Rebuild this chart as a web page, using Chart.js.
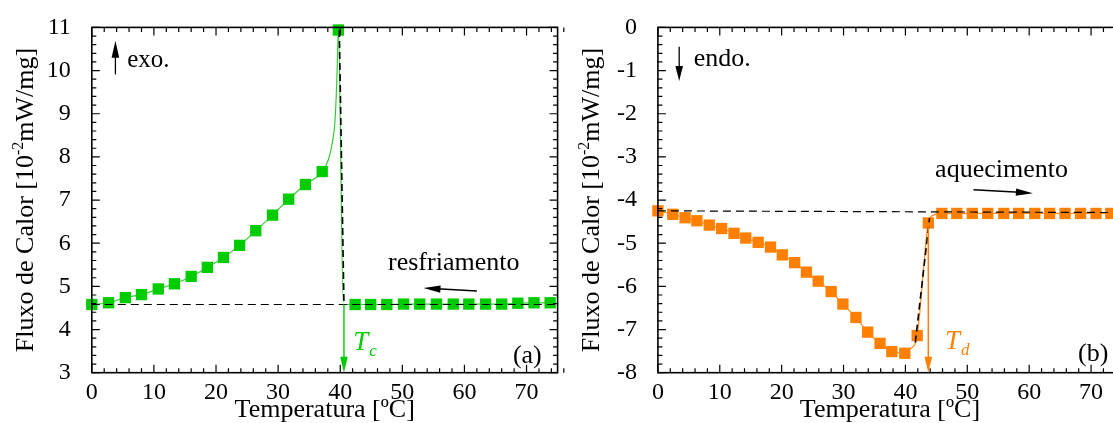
<!DOCTYPE html>
<html>
<head>
<meta charset="utf-8">
<script src="https://cdn.jsdelivr.net/npm/chart.js@4.4.0/dist/chart.umd.min.js"></script>
<style>
  html, body { margin: 0; padding: 0; background: #fff; overflow: hidden; }
  #wrap { position: relative; width: 1113px; height: 423px; overflow: hidden; }
  #left { position: absolute; left: 0; top: 0; }
  #right { position: absolute; left: 570px; top: 0; }
</style>
</head>
<body>
<div id="wrap">
  <canvas id="left" width="570" height="423"></canvas>
  <canvas id="right" width="560" height="423"></canvas>
</div>
<script>
// tick labels
var xTicks = [0, 10, 20, 30, 40, 50, 60, 70];
var coolYTicks = [3, 4, 5, 6, 7, 8, 9, 10, 11];
var heatYTicks = [-8, -7, -6, -5, -4, -3, -2, -1, 0];

// (a) resfriamento
var coolTemp = [0, 2.7, 5.4, 8.0, 10.7, 13.3, 16.0, 18.6, 21.2, 23.8, 26.4, 29.1, 31.7, 34.4, 37.1, 39.7,
                42.4, 44.9, 47.5, 50.2, 52.8, 55.5, 58.2, 60.7, 63.4, 66.0, 68.6, 71.2, 73.8];
var coolFlux = [4.58, 4.62, 4.74, 4.81, 4.94, 5.06, 5.23, 5.44, 5.67, 5.95, 6.29, 6.65, 7.02, 7.36, 7.66, 10.94,
                4.58, 4.58, 4.58, 4.59, 4.59, 4.59, 4.59, 4.59, 4.59, 4.59, 4.61, 4.62, 4.62];
// curve points between markers near the peak (no marker)
var coolPeakTemp = [38.1, 38.7, 39.2, 39.5, 40.5];
var coolPeakFlux = [7.94, 8.31, 8.92, 9.99, 4.58];
var coolBaseTemp = [0, 75];
var coolBaseFlux = [4.58, 4.58];
var coolTanTemp = [39.85, 40.6];
var coolTanFlux = [10.94, 4.60];
var tcTemp = 40.6;

// (b) aquecimento
var heatTemp = [0, 2.4, 4.4, 6.3, 8.3, 10.3, 12.3, 14.2, 16.2, 18.2, 20.1, 22.1, 24.0, 25.9, 28.0, 29.9,
                32.0, 33.9, 35.9, 37.8, 39.9, 41.9, 43.7,
                45.9, 48.3, 50.8, 53.3, 55.9, 58.3, 60.9, 63.3, 65.8, 68.3, 70.8, 73.2];
var heatFlux = [-4.25, -4.33, -4.41, -4.48, -4.58, -4.66, -4.77, -4.88, -4.98, -5.09, -5.27, -5.45, -5.67, -5.88, -6.12, -6.41,
                -6.72, -7.06, -7.32, -7.51, -7.55, -7.14, -4.53,
                -4.31, -4.31, -4.31, -4.31, -4.31, -4.31, -4.31, -4.31, -4.31, -4.31, -4.31, -4.31];
var heatKneeTemp = [40.8, 44.5];
var heatKneeFlux = [-7.45, -4.35];
var heatBaseTemp = [0, 75];
var heatBaseFlux = [-4.25, -4.29];
var heatTanTemp = [41.6, 43.9];
var heatTanFlux = [-7.30, -4.42];
var tdTemp = 43.7;

var GREEN = '#00cc00', GREEN_LINE = '#33cc33';
var ORANGE = '#ff8000', ORANGE_LINE = '#ff8c1a';
var SERIF = '"Liberation Serif", "Times New Roman", serif';

function pts(xs, ys) {
  return xs.map(function (x, i) { return { x: x, y: ys[i] }; });
}
function merged(xa, ya, xb, yb) {
  return pts(xa, ya).concat(pts(xb, yb)).sort(function (p, q) { return p.x - q.x; });
}

function arrow(ctx, x1, y1, x2, y2, color, len, half, lw) {
  var ang = Math.atan2(y2 - y1, x2 - x1);
  ctx.save();
  ctx.strokeStyle = color;
  ctx.fillStyle = color;
  ctx.lineWidth = lw || 1.3;
  ctx.beginPath();
  ctx.moveTo(x1, y1);
  ctx.lineTo(x2 - Math.cos(ang) * len * 0.8, y2 - Math.sin(ang) * len * 0.8);
  ctx.stroke();
  ctx.translate(x2, y2);
  ctx.rotate(ang);
  ctx.beginPath();
  ctx.moveTo(0, 0);
  ctx.lineTo(-len, -half);
  ctx.lineTo(-len, half);
  ctx.closePath();
  ctx.fill();
  ctx.restore();
}

function text(ctx, s, x, y, size, color, style) {
  ctx.save();
  ctx.font = (style ? style + ' ' : '') + size + 'px ' + SERIF;
  ctx.fillStyle = color || '#000';
  ctx.textAlign = 'left';
  ctx.textBaseline = 'alphabetic';
  ctx.fillText(s, x, y);
  ctx.restore();
}

function subLabel(ctx, main, sub, x, y, color) {
  ctx.save();
  ctx.font = 'italic 27px ' + SERIF;
  var w = ctx.measureText(main).width;
  ctx.restore();
  text(ctx, main, x, y, 27, color, 'italic');
  text(ctx, sub, x + w + 1, y + 6, 17, color, 'italic');
}

function yTitle(ctx, baseX, cy) {
  var p1 = 'Fluxo de Calor [10', p2 = '-2', p3 = 'mW/mg]';
  ctx.save();
  ctx.translate(baseX, cy);
  ctx.rotate(-Math.PI / 2);
  ctx.fillStyle = '#000';
  ctx.textBaseline = 'alphabetic';
  ctx.textAlign = 'left';
  ctx.font = '26px ' + SERIF;
  var w1 = ctx.measureText(p1).width, w3 = ctx.measureText(p3).width;
  ctx.font = '16px ' + SERIF;
  var w2 = ctx.measureText(p2).width;
  var x0 = -(w1 + w2 + w3) / 2;
  ctx.font = '26px ' + SERIF;
  ctx.fillText(p1, x0, 0);
  ctx.font = '16px ' + SERIF;
  ctx.fillText(p2, x0 + w1, -10);
  ctx.font = '26px ' + SERIF;
  ctx.fillText(p3, x0 + w1 + w2, 0);
  ctx.restore();
}

function xTitle(ctx, a) {
  ctx.save();
  ctx.font = '26px ' + SERIF;
  ctx.fillStyle = '#000';
  ctx.textAlign = 'center';
  ctx.textBaseline = 'alphabetic';
  ctx.fillText('Temperatura [\u00baC]', (a.left + a.right) / 2, 417);
  ctx.restore();
}

// box + inward ticks on all four sides
var framePlugin = {
  id: 'frame',
  afterDatasetsDraw: function (chart) {
    var a = chart.chartArea, ctx = chart.ctx, sx = chart.scales.x, sy = chart.scales.y;
    ctx.save();
    ctx.strokeStyle = '#000';
    ctx.lineWidth = 1.6;
    ctx.strokeRect(a.left, a.top, a.right - a.left, a.bottom - a.top);
    ctx.lineWidth = 1.2;
    ctx.beginPath();
    var i, v, p, len;
    for (i = 0; i <= Math.round((sx.max - sx.min) / 2); i++) {
      v = sx.min + i * 2;
      p = sx.getPixelForValue(v);
      len = (i % 5 === 0) ? 8 : 4.5;
      ctx.moveTo(p, a.bottom); ctx.lineTo(p, a.bottom - len);
      ctx.moveTo(p, a.top); ctx.lineTo(p, a.top + len);
    }
    for (i = 0; i <= Math.round((sy.max - sy.min) / 0.2); i++) {
      v = sy.min + i * 0.2;
      p = sy.getPixelForValue(v);
      len = (i % 5 === 0) ? 8 : 4.5;
      ctx.moveTo(a.left, p); ctx.lineTo(a.left + len, p);
      ctx.moveTo(a.right, p); ctx.lineTo(a.right - len, p);
    }
    ctx.stroke();
    ctx.restore();
  }
};

function makeChart(id, o) {
  return new Chart(document.getElementById(id).getContext('2d'), {
    type: 'line',
    data: {
      datasets: [
        {
          data: o.curve,
          borderColor: o.lineColor,
          borderWidth: 1.2,
          pointRadius: 0,
          cubicInterpolationMode: 'monotone',
          fill: false,
          order: 3
        },
        {
          data: o.marks,
          showLine: false,
          pointStyle: 'rect',
          pointRadius: 8,
          pointBorderWidth: 0,
          pointBackgroundColor: o.markColor,
          clip: false,
          order: 2
        },
        {
          data: o.base,
          borderColor: '#000',
          borderWidth: 1.2,
          borderDash: [8, 5],
          pointRadius: 0,
          order: 1
        },
        {
          data: o.tangent,
          borderColor: '#000',
          borderWidth: 1.6,
          borderDash: [7, 4],
          pointRadius: 0,
          clip: false,
          order: 0
        }
      ]
    },
    options: {
      responsive: false,
      animation: false,
      events: [],
      layout: { padding: { top: 22, right: o.padRight, left: 0, bottom: 0 } },
      plugins: { legend: { display: false }, tooltip: { enabled: false } },
      scales: {
        x: {
          type: 'linear', min: 0, max: 75,
          grid: { display: false }, border: { display: false },
          afterBuildTicks: function (s) { s.ticks = xTicks.map(function (v) { return { value: v }; }); },
          afterFit: function (s) { s.height = 50.3; },
          ticks: { font: { family: SERIF, size: 24 }, color: '#000', padding: -2, maxRotation: 0, autoSkip: false }
        },
        y: {
          type: 'linear', min: o.yTicks[0], max: o.yTicks[o.yTicks.length - 1],
          grid: { display: false }, border: { display: false },
          afterBuildTicks: function (s) { s.ticks = o.yTicks.map(function (v) { return { value: v }; }); },
          afterFit: function (s) { s.width = o.axisWidth; },
          ticks: { font: { family: SERIF, size: 24 }, color: '#000', padding: 13, autoSkip: false }
        }
      }
    },
    plugins: [framePlugin, o.extras]
  });
}

makeChart('left', {
  curve: merged(coolTemp, coolFlux, coolPeakTemp, coolPeakFlux),
  marks: pts(coolTemp, coolFlux),
  base: pts(coolBaseTemp, coolBaseFlux),
  tangent: pts(coolTanTemp, coolTanFlux),
  lineColor: GREEN_LINE, markColor: GREEN,
  yTicks: coolYTicks, axisWidth: 91.8, padRight: 12.4,
  extras: {
    id: 'coolNotes',
    afterDraw: function (chart) {
      var ctx = chart.ctx, sx = chart.scales.x, sy = chart.scales.y, a = chart.chartArea;
      var X = function (v) { return sx.getPixelForValue(v); };
      var Y = function (v) { return sy.getPixelForValue(v); };
      arrow(ctx, X(tcTemp), Y(coolBaseFlux[0]), X(tcTemp), a.bottom, GREEN, 16, 3.8, 1.4);
      subLabel(ctx, 'T', 'c', X(42.1), Y(3.52), GREEN);
      arrow(ctx, X(3.8), Y(9.91), X(3.8), Y(10.69), '#000', 17, 3.8, 1.3);
      text(ctx, 'exo.', X(5.7), Y(10.09), 25);
      text(ctx, 'resfriamento', X(47.7), Y(5.39), 26);
      arrow(ctx, X(62.0), Y(4.89), X(53.4), Y(4.96), '#000', 17, 3.6, 1.5);
      text(ctx, '(a)', X(67.8), Y(3.22), 26);
      yTitle(ctx, 33, 200);
      xTitle(ctx, a);
    }
  }
});

makeChart('right', {
  curve: merged(heatTemp, heatFlux, heatKneeTemp, heatKneeFlux),
  marks: pts(heatTemp, heatFlux),
  base: pts(heatBaseTemp, heatBaseFlux),
  tangent: pts(heatTanTemp, heatTanFlux),
  lineColor: ORANGE_LINE, markColor: ORANGE,
  yTicks: heatYTicks, axisWidth: 87.9, padRight: 5.6,
  extras: {
    id: 'heatNotes',
    afterDraw: function (chart) {
      var ctx = chart.ctx, sx = chart.scales.x, sy = chart.scales.y, a = chart.chartArea;
      var X = function (v) { return sx.getPixelForValue(v); };
      var Y = function (v) { return sy.getPixelForValue(v); };
      arrow(ctx, X(tdTemp), Y(-4.53), X(tdTemp), a.bottom, ORANGE, 16, 3.8, 1.5);
      subLabel(ctx, 'T', 'd', X(46.4), Y(-7.45), ORANGE);
      arrow(ctx, X(3.44), Y(-0.45), X(3.44), Y(-1.24), '#000', 15, 3.8, 1.3);
      text(ctx, 'endo.', X(5.8), Y(-0.90), 26);
      text(ctx, 'aquecimento', X(44.8), Y(-3.47), 26);
      arrow(ctx, X(51.0), Y(-3.76), X(60.6), Y(-3.84), '#000', 17, 3.6, 1.5);
      text(ctx, '(b)', X(67.9), Y(-7.73), 26);
      yTitle(ctx, 29.4, 200);
      xTitle(ctx, a);
    }
  }
});
</script>
</body>
</html>
